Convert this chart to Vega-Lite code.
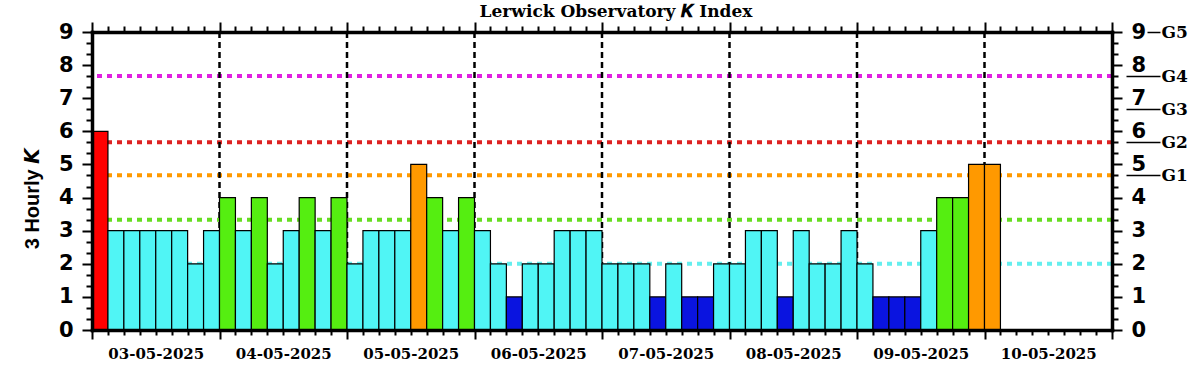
{
  "$schema": "https://vega.github.io/schema/vega-lite/v6.json",
  "width": 1020,
  "height": 298,
  "autosize": {"type": "none"},
  "padding": {"left": 92, "top": 32, "right": 91, "bottom": 45},
  "background": "white",
  "title": {"text": "Lerwick Observatory 𝑲 Index", "font": "DejaVu Serif", "fontSize": 17, "fontWeight": "bold", "color": "black", "anchor": "middle", "offset": 0, "dx": 14},
  "config": {
    "view": {"stroke": null},
    "axis": {"domain": false, "grid": false, "tickColor": "black", "tickWidth": 2, "labelColor": "black", "title": null, "labelFlush": false, "labelOverlap": false}
  },
  "datasets": {
    "kp": [
      {"h": 0, "k": 6}, {"h": 3, "k": 3}, {"h": 6, "k": 3}, {"h": 9, "k": 3}, {"h": 12, "k": 3}, {"h": 15, "k": 3}, {"h": 18, "k": 2}, {"h": 21, "k": 3},
      {"h": 24, "k": 4}, {"h": 27, "k": 3}, {"h": 30, "k": 4}, {"h": 33, "k": 2}, {"h": 36, "k": 3}, {"h": 39, "k": 4}, {"h": 42, "k": 3}, {"h": 45, "k": 4},
      {"h": 48, "k": 2}, {"h": 51, "k": 3}, {"h": 54, "k": 3}, {"h": 57, "k": 3}, {"h": 60, "k": 5}, {"h": 63, "k": 4}, {"h": 66, "k": 3}, {"h": 69, "k": 4},
      {"h": 72, "k": 3}, {"h": 75, "k": 2}, {"h": 78, "k": 1}, {"h": 81, "k": 2}, {"h": 84, "k": 2}, {"h": 87, "k": 3}, {"h": 90, "k": 3}, {"h": 93, "k": 3},
      {"h": 96, "k": 2}, {"h": 99, "k": 2}, {"h": 102, "k": 2}, {"h": 105, "k": 1}, {"h": 108, "k": 2}, {"h": 111, "k": 1}, {"h": 114, "k": 1}, {"h": 117, "k": 2},
      {"h": 120, "k": 2}, {"h": 123, "k": 3}, {"h": 126, "k": 3}, {"h": 129, "k": 1}, {"h": 132, "k": 3}, {"h": 135, "k": 2}, {"h": 138, "k": 2}, {"h": 141, "k": 3},
      {"h": 144, "k": 2}, {"h": 147, "k": 1}, {"h": 150, "k": 1}, {"h": 153, "k": 1}, {"h": 156, "k": 3}, {"h": 159, "k": 4}, {"h": 162, "k": 4}, {"h": 165, "k": 5},
      {"h": 168, "k": 5}
    ],
    "thr": [
      {"level": "G0", "v": 2.0},
      {"level": "G1a", "v": 3.33},
      {"level": "G1", "v": 4.67},
      {"level": "G2", "v": 5.67},
      {"level": "G4", "v": 7.67}
    ],
    "days": [{"d": 24}, {"d": 48}, {"d": 72}, {"d": 96}, {"d": 120}, {"d": 144}, {"d": 168}]
  },
  "layer": [
    {
      "data": {"name": "thr"},
      "mark": {"type": "rule", "strokeDash": [5, 5], "strokeWidth": 4},
      "encoding": {
        "y": {"field": "v", "type": "quantitative", "scale": {"domain": [0, 9], "nice": false, "zero": false},
          "axis": {"orient": "left", "values": [0,1,2,3,4,5,6,7,8,9], "tickSize": 10, "labelPadding": 9, "labelFont": "DejaVu Sans", "labelFontWeight": "bold", "labelFontSize": 21,
            "domain": true, "domainWidth": 3.5, "domainColor": "black", "domainCap": "square", "zindex": 1,
            "title": "3 Hourly 𝙆", "titleFont": "Liberation Sans", "titleFontSize": 20, "titleFontWeight": "bold", "titleColor": "black", "titleAngle": 270, "titleX": -60, "titleY": 166, "titleAlign": "center", "titleBaseline": "middle"}},
        "color": {"field": "level", "type": "nominal", "scale": {"domain": ["G0", "G1a", "G1", "G2", "G4"], "range": ["#66eeee", "#66dd22", "#ff9900", "#dd2222", "#e020e0"]}, "legend": null}
      }
    },
    {
      "data": {"name": "days"},
      "mark": {"type": "rule", "strokeDash": [6, 4], "strokeWidth": 2.5, "color": "black"},
      "encoding": {
        "x": {"field": "d", "type": "quantitative", "scale": {"domain": [0, 192], "nice": false, "zero": false},
          "axis": {"orient": "bottom", "values": [0, 24, 48, 72, 96, 120, 144, 168, 192], "tickSize": 9, "labels": false,
            "domain": true, "domainWidth": 3.5, "domainColor": "black", "domainCap": "square", "zindex": 1}}
      }
    },
    {
      "data": {"name": "kp"},
      "transform": [{"calculate": "datum.h + 3", "as": "h2"}],
      "mark": {"type": "bar", "stroke": "black", "strokeWidth": 1.2},
      "encoding": {
        "x": {"field": "h", "type": "quantitative",
          "axis": {"orient": "bottom", "values": [12, 36, 60, 84, 108, 132, 156, 180], "ticks": false, "labelPadding": 16,
            "labelExpr": "['03-05-2025','04-05-2025','05-05-2025','06-05-2025','07-05-2025','08-05-2025','09-05-2025','10-05-2025'][floor(datum.value/24)]",
            "labelFont": "DejaVu Serif", "labelFontWeight": "bold", "labelFontSize": 15}},
        "x2": {"field": "h2"},
        "y": {"field": "k", "type": "quantitative",
          "axis": {"orient": "left", "values": [0.3333,0.6667,1.3333,1.6667,2.3333,2.6667,3.3333,3.6667,4.3333,4.6667,5.3333,5.6667,6.3333,6.6667,7.3333,7.6667,8.3333,8.6667], "tickSize": 6, "labels": false}},
        "y2": {"datum": 0},
        "color": {"field": "k", "type": "ordinal", "scale": {"domain": [0,1,2,3,4,5,6,7,8,9], "range": ["#0a14e0", "#0a14e0", "#50f5f5", "#50f5f5", "#55ee11", "#ff9900", "#ff0000", "#ff0000", "#ee22ee", "#ee22ee"]}, "legend": null}
      }
    },
    {
      "data": {"name": "kp"},
      "mark": {"type": "point", "opacity": 0},
      "encoding": {
        "x": {"field": "h", "type": "quantitative",
          "axis": {"orient": "bottom", "values": [3,6,9,12,15,18,21,27,30,33,36,39,42,45,51,54,57,60,63,66,69,75,78,81,84,87,90,93,99,102,105,108,111,114,117,123,126,129,132,135,138,141,147,150,153,156,159,162,165,171,174,177,180,183,186,189], "tickSize": 5, "labels": false}},
        "y": {"field": "k", "type": "quantitative",
          "axis": {"orient": "right", "values": [0,1,2,3,4,5,6,7,8,9], "tickSize": 10, "labelPadding": 9, "labelFont": "DejaVu Sans", "labelFontWeight": "bold", "labelFontSize": 21,
            "domain": true, "domainWidth": 3.5, "domainColor": "black", "domainCap": "square", "zindex": 1}}
      }
    },
    {
      "data": {"name": "kp"},
      "mark": {"type": "point", "opacity": 0},
      "encoding": {
        "x": {"field": "h", "type": "quantitative",
          "axis": {"orient": "top", "values": [0, 24, 48, 72, 96, 120, 144, 168, 192], "tickSize": 10, "labels": false,
            "domain": true, "domainWidth": 3.5, "domainColor": "black", "domainCap": "square", "zindex": 1}},
        "y": {"field": "k", "type": "quantitative",
          "axis": {"orient": "right", "values": [0.3333,0.6667,1.3333,1.6667,2.3333,2.6667,3.3333,3.6667,4.3333,4.6667,5.3333,5.6667,6.3333,6.6667,7.3333,7.6667,8.3333,8.6667], "tickSize": 6, "labels": false}}
      }
    },
    {
      "data": {"name": "kp"},
      "mark": {"type": "point", "opacity": 0},
      "encoding": {
        "x": {"field": "h", "type": "quantitative",
          "axis": {"orient": "top", "values": [3,6,9,12,15,18,21,27,30,33,36,39,42,45,51,54,57,60,63,66,69,75,78,81,84,87,90,93,99,102,105,108,111,114,117,123,126,129,132,135,138,141,147,150,153,156,159,162,165,171,174,177,180,183,186,189], "tickSize": 6, "labels": false}},
        "y": {"field": "k", "type": "quantitative",
          "axis": {"orient": "right", "offset": 14, "values": [4.67, 5.67, 6.67, 7.67], "tickSize": 34, "tickWidth": 1.5, "labelPadding": 1,
            "labelExpr": "datum.value < 5 ? 'G1' : datum.value < 6 ? 'G2' : datum.value < 7 ? 'G3' : 'G4'",
            "labelFont": "DejaVu Serif", "labelFontWeight": "bold", "labelFontSize": 17}}
      }
    },
    {
      "data": {"name": "kp"},
      "mark": {"type": "point", "opacity": 0},
      "encoding": {
        "y": {"field": "k", "type": "quantitative",
          "axis": {"orient": "right", "offset": 35, "values": [9], "tickSize": 13, "tickWidth": 1.5, "labelPadding": 1,
            "labelExpr": "'G5'", "labelFont": "DejaVu Serif", "labelFontWeight": "bold", "labelFontSize": 17}}
      }
    }
  ],
  "resolve": {"axis": {"x": "independent", "y": "independent"}, "scale": {"color": "independent"}}
}
